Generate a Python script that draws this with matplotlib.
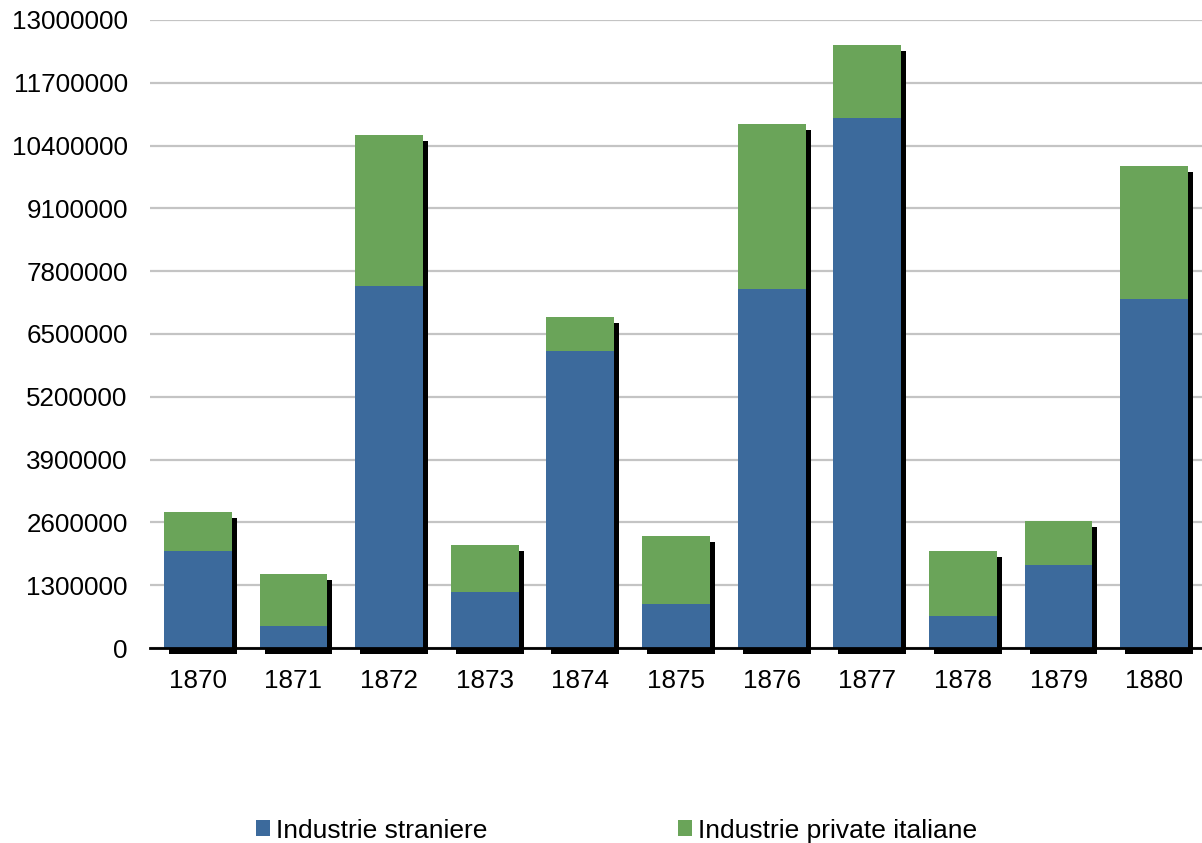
import numpy as np
import matplotlib

matplotlib.use("Agg")
import matplotlib.pyplot as plt
import matplotlib.transforms as mtransforms

years = ["1870", "1871", "1872", "1873", "1874", "1875", "1876", "1877", "1878", "1879", "1880"]
straniere = [2010000, 460000, 7490000, 1160000, 6150000, 910000, 7430000, 10970000, 660000, 1720000, 7230000]
italiane = [810000, 1070000, 3130000, 970000, 700000, 1410000, 3420000, 1510000, 1350000, 910000, 2750000]
y_ticks = [0, 1300000, 2600000, 3900000, 5200000, 6500000, 7800000, 9100000, 10400000, 11700000, 13000000]

blue = "#3c6a9c"
green = "#6aa459"

plt.rcParams["font.family"] = ["Liberation Sans", "DejaVu Sans"]

fig = plt.figure(figsize=(12.02, 8.43), dpi=100)
ax = fig.add_axes([150 / 1202, 195 / 843, 1 - 150 / 1202, 628 / 843])

x = np.arange(len(years))
totals = np.array(straniere) + np.array(italiane)
width = 0.71

# drop shadow behind each stacked bar
shadow = mtransforms.offset_copy(ax.transData, fig=fig, x=5, y=-6, units="dots")
ax.bar(x, totals, width, color="black", transform=shadow, zorder=2, clip_on=False)

b1 = ax.bar(x, straniere, width, color=blue, zorder=3, label="Industrie straniere")
b2 = ax.bar(x, italiane, width, bottom=straniere, color=green, zorder=3,
            label="Industrie private italiane")

ax.set_xlim(-0.5, len(years) - 0.5)
ax.set_ylim(0, 13000000)
ax.set_yticks(y_ticks)
ax.set_yticklabels([str(v) for v in y_ticks])
ax.set_xticks(x)
ax.set_xticklabels(years)
ax.tick_params(axis="y", length=0, pad=16, labelsize=18.7)
ax.tick_params(axis="x", length=0, pad=15, labelsize=18.7)

ax.grid(axis="y", color="#c4c4c4", linewidth=1.6, zorder=0)
ax.set_axisbelow(True)
for side in ["left", "right", "top"]:
    ax.spines[side].set_visible(False)
ax.spines["bottom"].set_color("black")
ax.spines["bottom"].set_linewidth(2)
ax.spines["bottom"].set_zorder(4)

fig.legend(handles=[b1, b2], loc="center", bbox_to_anchor=(0.513, 0.0145), ncol=2,
           frameon=False, fontsize=19, handlelength=0.55, handleheight=0.55,
           handletextpad=0.23, columnspacing=7.2)

fig.savefig("out.png", dpi=100)
